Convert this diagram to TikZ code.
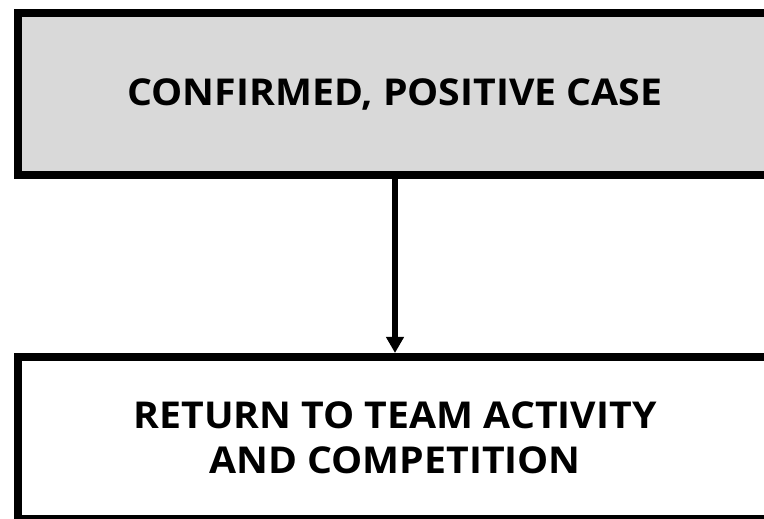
\documentclass[tikz,border=0pt]{standalone}
\usepackage{fontspec}
\setmainfont{Open Sans}[FakeStretch=1.06]
\usetikzlibrary{arrows.meta}
\definecolor{boxgray}{RGB}{217,217,217}
\tikzset{
  box/.style={draw=black, line width=8pt, minimum width=754pt, minimum height=162pt, inner sep=0pt, align=center, font=\fontsize{37pt}{45pt}\selectfont\bfseries},
  conn/.style={line width=6pt, -{Triangle[width=17pt,length=16pt]}}
}
\begin{document}
\begin{tikzpicture}[x=1pt,y=1pt]
\useasboundingbox (0,0) rectangle (764,519);
\clip (0,0) rectangle (764,519);
\fill[white] (0,0) rectangle (764,519);
\node[box, fill=boxgray] (top) at (395,425) {CONFIRMED, POSITIVE CASE};
\node[box, fill=white] (bot) at (395,81) {RETURN TO TEAM ACTIVITY\\AND COMPETITION};
\draw[conn] (top.south) -- (bot.north);
\end{tikzpicture}
\end{document}
